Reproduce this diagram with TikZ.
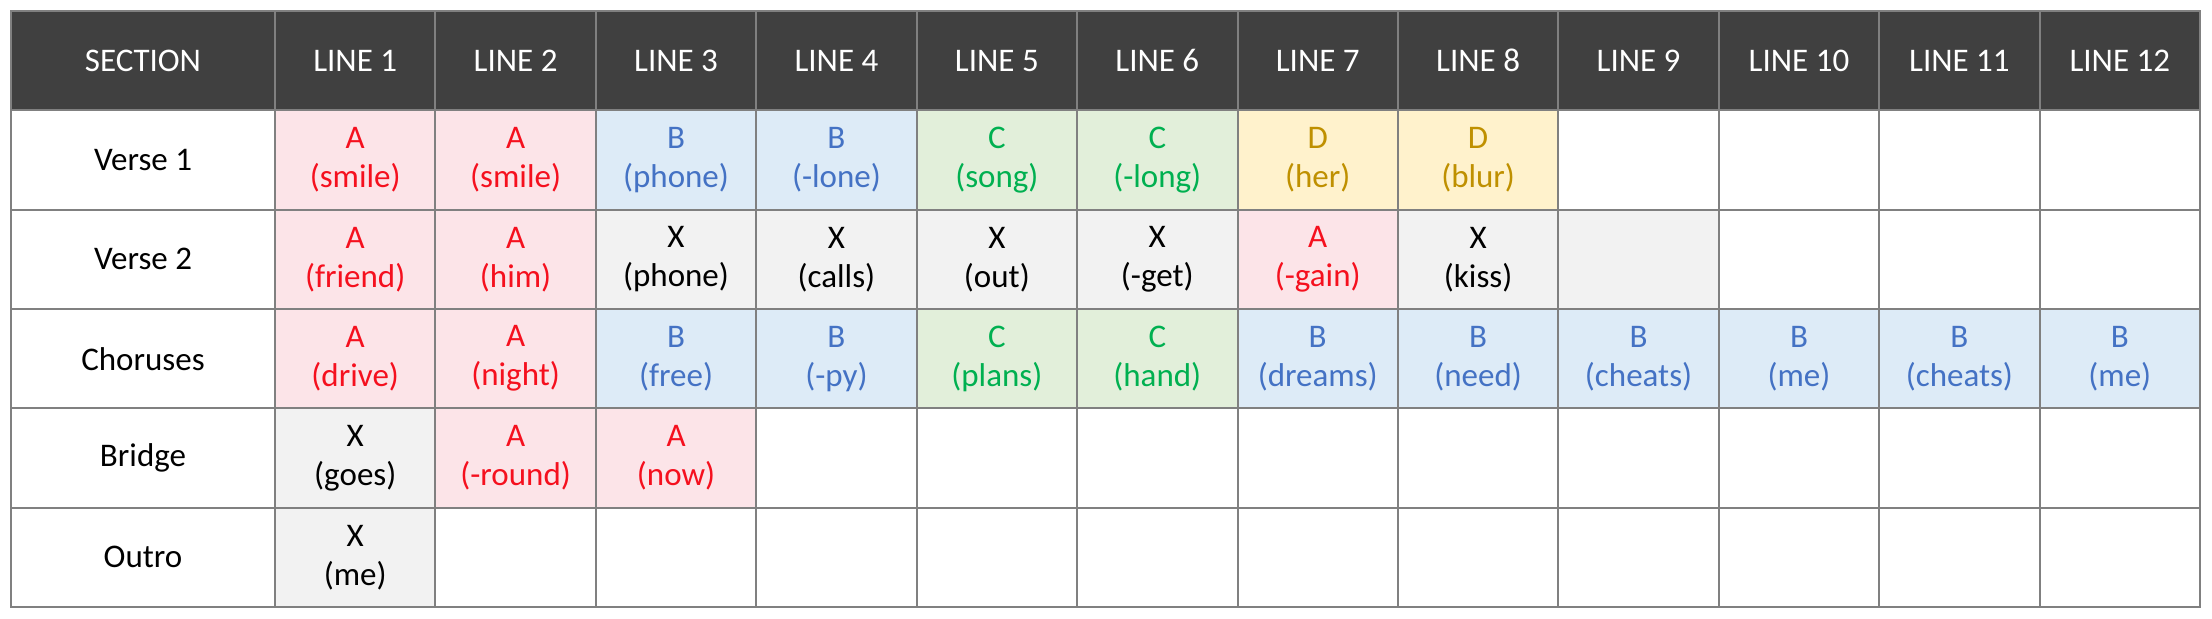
\documentclass[tikz,border=0pt]{standalone}
\usepackage{fontspec}
\setmainfont{Carlito}
\definecolor{hdr}{HTML}{404040}
\definecolor{grid}{HTML}{808080}
\definecolor{pinkf}{HTML}{FCE4E8}
\definecolor{redt}{HTML}{F5101E}
\definecolor{bluef}{HTML}{DDEBF7}
\definecolor{bluet}{HTML}{4472C4}
\definecolor{greenf}{HTML}{E2EFDA}
\definecolor{greent}{HTML}{00B050}
\definecolor{yelf}{HTML}{FFF2CC}
\definecolor{yelt}{HTML}{BF9000}
\definecolor{grayf}{HTML}{F2F2F2}
\tikzset{
  cellbox/.style={draw=grid, line width=1pt, minimum width=80.21pt, minimum height=49.67pt, inner sep=0pt, align=center, font=\fontsize{16.5}{20.5}\selectfont},
  seccell/.style={cellbox, minimum width=132pt, fill=white},
  hdrcell/.style={cellbox, fill=hdr, text=white},
  wcell/.style={cellbox, fill=white},
  acell/.style={cellbox, fill=pinkf, text=redt},
  bcell/.style={cellbox, fill=bluef, text=bluet},
  ccell/.style={cellbox, fill=greenf, text=greent},
  dcell/.style={cellbox, fill=yelf, text=yelt},
  xcell/.style={cellbox, fill=grayf, text=black},
}
\newcommand\mycell[5]{\node[#3] (r#1c#2) at ({275+160.417*(#2-0.5)},{11+99.333*(#1+0.5)}) {#4\\[-1pt]#5};}
\newcommand\myhead[2]{\node[hdrcell] (r0c#1) at ({275+160.417*(#1-0.5)},{11+99.333*0.5}) {#2};}
\newcommand\mysec[2]{\node[seccell] (r#1c0) at (143,{11+99.333*(#1+0.5)}) {#2};}
\newcommand\myempty[3]{\node[#3] (r#1c#2) at ({275+160.417*(#2-0.5)},{11+99.333*(#1+0.5)}) {};}
\begin{document}
\begin{tikzpicture}[x=0.5pt,y=-0.5pt]
\useasboundingbox (0,0) rectangle (2212,618);
% header
\node[hdrcell, minimum width=132pt] (r0c0) at (143,{11+99.333*0.5}) {SECTION};
\foreach \i in {1,...,12} {\myhead{\i}{LINE \i}}
% section labels
\mysec{1}{Verse 1}
\mysec{2}{Verse 2}
\mysec{3}{Choruses}
\mysec{4}{Bridge}
\mysec{5}{Outro}
% Verse 1
\mycell{1}{1}{acell}{A}{(smile)}
\mycell{1}{2}{acell}{A}{(smile)}
\mycell{1}{3}{bcell}{B}{(phone)}
\mycell{1}{4}{bcell}{B}{(-lone)}
\mycell{1}{5}{ccell}{C}{(song)}
\mycell{1}{6}{ccell}{C}{(-long)}
\mycell{1}{7}{dcell}{D}{(her)}
\mycell{1}{8}{dcell}{D}{(blur)}
\foreach \j in {9,...,12} {\myempty{1}{\j}{wcell}}
% Verse 2
\mycell{2}{1}{acell}{A}{(friend)}
\mycell{2}{2}{acell}{A}{(him)}
\mycell{2}{3}{xcell}{X}{(phone)}
\mycell{2}{4}{xcell}{X}{(calls)}
\mycell{2}{5}{xcell}{X}{(out)}
\mycell{2}{6}{xcell}{X}{(-get)}
\mycell{2}{7}{acell}{A}{(-gain)}
\mycell{2}{8}{xcell}{X}{(kiss)}
\myempty{2}{9}{xcell}
\foreach \j in {10,...,12} {\myempty{2}{\j}{wcell}}
% Choruses
\mycell{3}{1}{acell}{A}{(drive)}
\mycell{3}{2}{acell}{A}{(night)}
\mycell{3}{3}{bcell}{B}{(free)}
\mycell{3}{4}{bcell}{B}{(-py)}
\mycell{3}{5}{ccell}{C}{(plans)}
\mycell{3}{6}{ccell}{C}{(hand)}
\mycell{3}{7}{bcell}{B}{(dreams)}
\mycell{3}{8}{bcell}{B}{(need)}
\mycell{3}{9}{bcell}{B}{(cheats)}
\mycell{3}{10}{bcell}{B}{(me)}
\mycell{3}{11}{bcell}{B}{(cheats)}
\mycell{3}{12}{bcell}{B}{(me)}
% Bridge
\mycell{4}{1}{xcell}{X}{(goes)}
\mycell{4}{2}{acell}{A}{(-round)}
\mycell{4}{3}{acell}{A}{(now)}
\foreach \j in {4,...,12} {\myempty{4}{\j}{wcell}}
% Outro
\mycell{5}{1}{xcell}{X}{(me)}
\foreach \j in {2,...,12} {\myempty{5}{\j}{wcell}}
\end{tikzpicture}
\end{document}
